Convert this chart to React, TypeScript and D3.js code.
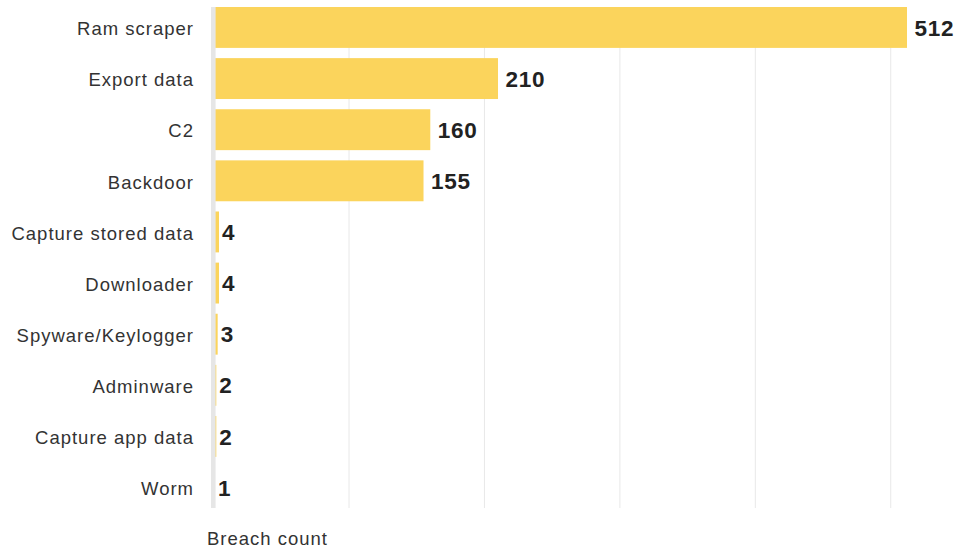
import { scaleBand, scaleLinear } from "d3";

const WIDTH = 954;
const HEIGHT = 548;
const MARGIN = { top: 7, right: 47, bottom: 40, left: 213.6 };

const categories = [
  "Ram scraper",
  "Export data",
  "C2",
  "Backdoor",
  "Capture stored data",
  "Downloader",
  "Spyware/Keylogger",
  "Adminware",
  "Capture app data",
  "Worm",
];
const breachCounts = [512, 210, 160, 155, 4, 4, 3, 2, 2, 1];
const gridTicks = [100, 200, 300, 400, 500];
const axisTitle = "Breach count";

const BAR = "#fbd45c";
const GRID = "#e8e8e8";
const FONT = "'Liberation Sans', Arial, Helvetica, sans-serif";

export default function App() {
  const plotBottom = 508;
  const xScale = scaleLinear()
    .domain([0, 512])
    .range([MARGIN.left, WIDTH - MARGIN.right]);

  const yScale = scaleBand<string>()
    .domain(categories)
    .range([MARGIN.top, plotBottom])
    .paddingInner(0.2)
    .paddingOuter(0);

  return (
    <svg
      width={WIDTH}
      height={HEIGHT}
      viewBox={`0 0 ${WIDTH} ${HEIGHT}`}
      style={{ position: "absolute", left: 0, top: 0, display: "block" }}
      fontFamily={FONT}
    >
      <rect x="0" y="0" width={WIDTH} height={HEIGHT} fill="#fff" />
      {gridTicks.map((tick) => (
        <line
          key={tick}
          x1={xScale(tick)}
          x2={xScale(tick)}
          y1={MARGIN.top}
          y2={plotBottom}
          stroke={GRID}
          strokeWidth="1"
        />
      ))}
      {categories.map((name, i) => {
        const y = yScale(name) ?? 0;
        const value = breachCounts[i];
        const mid = y + yScale.bandwidth() / 2;
        return (
          <g key={name}>
            <rect
              x={xScale(0)}
              y={y}
              width={xScale(value) - xScale(0)}
              height={yScale.bandwidth()}
              fill={BAR}
            />
            <text
              x={194}
              y={mid}
              dy="0.42em"
              textAnchor="end"
              fontSize="18.5"
              letterSpacing="1"
              fill="#333"
            >
              {name}
            </text>
            <text
              x={xScale(value) + (value > 50 ? 7.5 : 3)}
              y={mid}
              dy="0.36em"
              fontSize="22.5"
              fontWeight="bold"
              letterSpacing="0.7"
              fill="#222"
            >
              {value}
            </text>
          </g>
        );
      })}
      <rect
        x={xScale(0) - 2.6}
        y={MARGIN.top}
        width="4.6"
        height={plotBottom - MARGIN.top}
        fill="#e6e6e6"
      />
      <text x={207} y={538} dy="0.38em" fontSize="18.5" letterSpacing="1" fill="#333">
        {axisTitle}
      </text>
    </svg>
  );
}
